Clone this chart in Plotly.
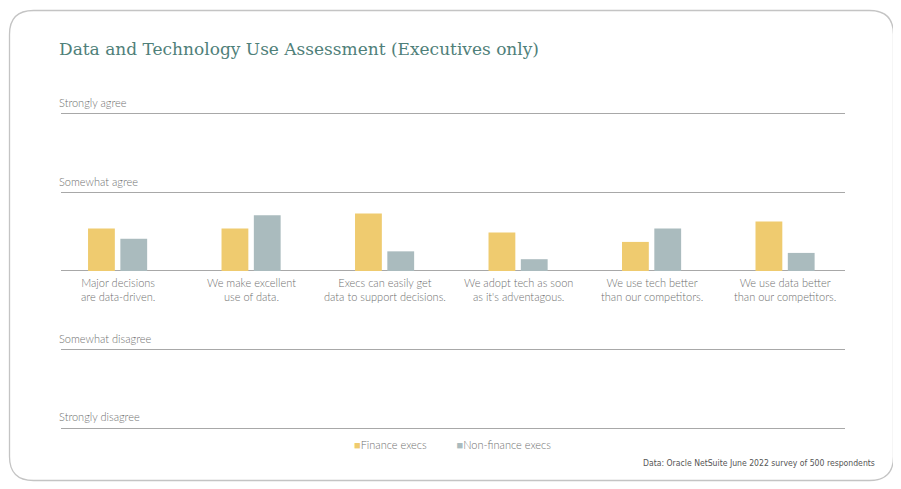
import plotly.graph_objects as go

categories = [
    "Major decisions<br>are data-driven.",
    "We make excellent<br>use of data.",
    "Execs can easily get<br>data to support decisions.",
    "We adopt tech as soon<br>as it's adventagous.",
    "We use tech better<br>than our competitors.",
    "We use data better<br>than our competitors.",
]
series_names = ["Finance execs", "Non-finance execs"]
finance = [0.54, 0.54, 0.73, 0.49, 0.37, 0.63]
non_finance = [0.41, 0.71, 0.25, 0.15, 0.54, 0.23]
scale_vals = [2, 1, -1, -2]
scale_text = ["Strongly agree", "Somewhat agree", "Somewhat disagree", "Strongly disagree"]
colors = ["#EFCB6F", "#AABBBE"]

# page body has an 8px margin; work in window pixels and shift
OFF = 8
W, H = 901 - OFF, 489 - OFF
ML, MR, MT, MB = 61 - OFF, 56, 95 - OFF, 59
pw, ph = W - ML - MR, H - MT - MB

def px2paper(px, py):
    px, py = px - OFF, py - OFF
    return (px - ML) / pw, (H - MB - py) / ph

fig = go.Figure()
for name, vals, col in zip(series_names, [finance, non_finance], colors):
    fig.add_trace(go.Bar(x=categories, y=vals, name=name, marker_color=col,
                         marker_line_width=0, showlegend=False, hoverinfo="skip"))

label_font = dict(family="Lato, Open Sans, sans-serif", size=11, color="#6f6f6f", weight=300)

annotations = []
for c in categories:
    annotations.append(dict(x=c, y=0, xref="x", yref="y", text=c, showarrow=False,
                            yanchor="top", yshift=-3, align="center", font=label_font))

# legend as annotation
lx, ly = px2paper(452, 445)
leg = f'<span style="color:{colors[0]}">■</span>{series_names[0]}' + "&nbsp;" * 10 + \
      f'<span style="color:{colors[1]}">■</span>{series_names[1]}'
annotations.append(dict(x=lx, y=ly, xref="paper", yref="paper", text=leg, showarrow=False,
                        xanchor="center", yanchor="middle", font=label_font))

sx, sy = px2paper(877, 463)
annotations.append(dict(x=sx, y=sy, xref="paper", yref="paper",
                        text="Data: Oracle NetSuite June 2022 survey of 500 respondents",
                        showarrow=False, xanchor="right", yanchor="middle",
                        font=dict(family="Liberation Sans Narrow, DejaVu Sans Condensed, Lato, sans-serif",
                                  size=8.6, color="#555555")))

# card border (rounded rectangle)
x0, y0, x1, y1, r = 9.5, 10.5, 893.5, 480.5, 24
def P(px, py):
    a, b = px2paper(px, py)
    return f"{a:.5f},{b:.5f}"
path = (f"M {P(x0 + r, y0)} L {P(x1 - r, y0)} Q {P(x1, y0)} {P(x1, y0 + r)} "
        f"L {P(x1, y1 - r)} Q {P(x1, y1)} {P(x1 - r, y1)} "
        f"L {P(x0 + r, y1)} Q {P(x0, y1)} {P(x0, y1 - r)} "
        f"L {P(x0, y0 + r)} Q {P(x0, y0)} {P(x0 + r, y0)} Z")

fig.update_layout(
    width=W, height=H,
    margin=dict(l=ML, r=MR, t=MT, b=MB),
    paper_bgcolor="white", plot_bgcolor="white",
    barmode="group", bargap=0.516, bargroupgap=0.17,
    title=dict(text="Data and Technology Use Assessment (Executives only)",
               x=(59 - OFF) / W, xref="container", xanchor="left",
               y=1 - (49 - OFF) / H, yref="container", yanchor="middle",
               font=dict(family="DejaVu Serif, Georgia, serif", size=17, color="#4F8079")),
    xaxis=dict(range=[-0.424, 5.449], showticklabels=False, showgrid=False,
               zeroline=False, showline=False, ticks=""),
    yaxis=dict(range=[-2.023, 2.239], tickvals=scale_vals, ticktext=scale_text,
               ticklabelposition="inside top", ticks="", showgrid=True,
               ticklabelstandoff=-5, ticklabelshift=-3,
               gridcolor="#a8a8a8", gridwidth=1, zeroline=True,
               zerolinecolor="#a8a8a8", zerolinewidth=1, showline=False,
               tickfont=label_font),
    annotations=annotations,
    shapes=[dict(type="path", xref="paper", yref="paper", path=path,
                 line=dict(color="#c4c4c4", width=1.3), layer="below")],
    showlegend=False,
)

fig.write_html("out.html")
